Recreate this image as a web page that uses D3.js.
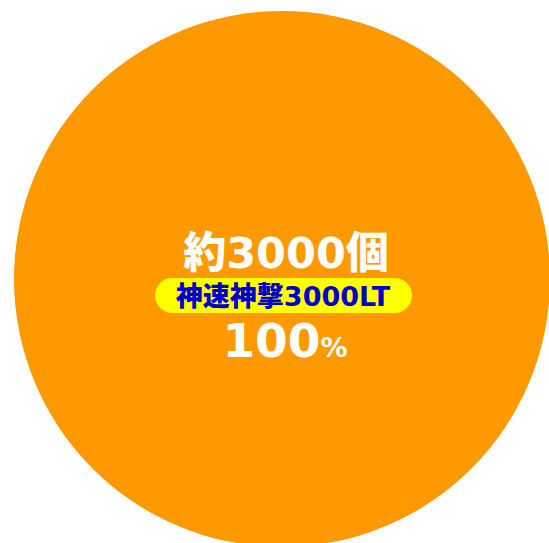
<!DOCTYPE html>
<html><head><meta charset="utf-8">
<script src="https://cdn.jsdelivr.net/npm/d3@7"></script>
<style>html,body{margin:0;padding:0;background:#fff;}svg{display:block;}</style>
</head><body>
<svg id="chart" width="549" height="543"></svg>
<script>
const categories = ["神速神撃3000LT"];
const values = [100];
const counts = ["約3000個"];
const percentLabels = ["100"];
const colors = ["#ff9900"];

const svg = d3.select("#chart");
const cx = 282, cy = 279, r = 268;
const g = svg.append("g").attr("transform", `translate(${cx},${cy})`);

const pie = d3.pie().sort(null).value(d => d.value);
const arc = d3.arc().innerRadius(0).outerRadius(r);
const data = categories.map((c, i) => ({name: c, value: values[i], count: counts[i], pct: percentLabels[i]}));
const color = d3.scaleOrdinal().domain(categories).range(colors);

g.selectAll("path.slice").data(pie(data)).join("path")
  .attr("class", "slice")
  .attr("d", arc)
  .attr("fill", d => color(d.data.name));

const labels = g.selectAll("g.lab").data(pie(data)).join("g").attr("class", "lab");
const font = "'DejaVu Sans','Noto Sans CJK JP',sans-serif";

labels.append("text")
  .attr("x", 4).attr("y", -11)
  .attr("text-anchor", "middle")
  .attr("font-family", font).attr("font-weight", 900)
  .attr("font-size", 43).attr("fill", "#fff")
  .text(d => d.data.count);

labels.append("rect")
  .attr("x", -127).attr("y", -1).attr("width", 257).attr("height", 35)
  .attr("rx", 17.5).attr("ry", 17.5)
  .attr("fill", "#ffff00");

labels.append("text")
  .attr("x", 1).attr("y", 27)
  .attr("text-anchor", "middle")
  .attr("font-family", font).attr("font-weight", 900)
  .attr("font-size", 27).attr("fill", "#0000cc")
  .text(d => d.data.name);

const pt = labels.append("text")
  .attr("x", 3).attr("y", 78)
  .attr("text-anchor", "middle")
  .attr("font-family", font).attr("font-weight", 900)
  .attr("fill", "#fff");
pt.append("tspan").attr("font-size", 47).text(d => d.data.pct);
pt.append("tspan").attr("font-size", 27).text("%");
</script>
</body></html>
